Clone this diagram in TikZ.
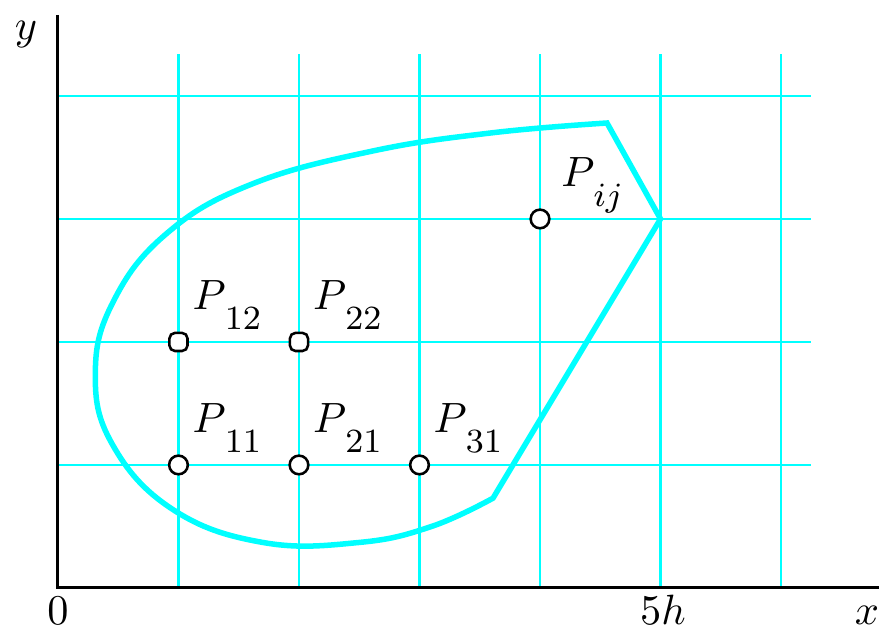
\documentclass[tikz,border=0pt]{standalone}
\usepackage{amsmath}
\usepackage{tikz}
\definecolor{gittercyan}{RGB}{0, 255, 255}
\usetikzlibrary{positioning}
\newcommand{\Pidx}[1]{$P_{\raisebox{-3pt}{\fontsize{7.6}{8}\selectfont\hspace{1.2pt}$#1$}}$}

\begin{document}
\begin{tikzpicture}[x=10mm, y=10.207mm,
			punkt/.style={draw, circle, fill=white, inner sep=0pt, minimum size=1.55mm, line width=0.6pt},
			eckpunkt/.style={draw, rectangle, rounded corners=1.3pt, fill=white, inner sep=0pt, minimum size=1.5mm, line width=0.6pt},
			beschr/.style={anchor=base west, inner sep=0pt},
			font=\normalsize]
			\useasboundingbox (-0.481,-0.366) rectangle (6.813,4.78);
			%Raster zeichnen
			\foreach \x in {1,...,6} \draw[gittercyan, line width=0.5pt] (\x,0) -- (\x,4.34);
			\foreach \y in {1,...,4} \draw[gittercyan, line width=0.5pt] (0,\y) -- (6.25,\y);
			% Achsen zeichnen
			\draw[line width=0.7pt] (0,4.66) -- (0,0) -- (6.813,0);
			% Achsen beschriften
			\node[anchor=base] (nullpkt) at (0,-0.30) {$0$};
			\node[anchor=base] (fuenfh) at (5.02,-0.30) {$5h$};
			\node[anchor=base] (xlab) at (6.714,-0.30) {$x$};
			\node[anchor=base] (ylab) at (-0.266,4.46) {$y$};
			%Gebiet zeichnen
			\draw[gittercyan, line width=1.3pt] (5,3) -- plot[smooth, tension=0.7] coordinates {(4.556,3.78) (3.6,3.70) (2.6,3.55) (1.6,3.28) (0.9,2.88) (0.46,2.33) (0.31,1.75) (0.45,1.17) (0.95,0.64) (1.7,0.37) (2.5,0.37) (3.1,0.50) (3.61,0.73)} -- cycle;
			%Gitterpunkte
			\node[punkt] (p11) at (1,1) {};
			\node[punkt] (p21) at (2,1) {};
			\node[punkt] (p31) at (3,1) {};
			\node[eckpunkt] (p12) at (1,2) {};
			\node[eckpunkt] (p22) at (2,2) {};
			\node[punkt] (pij) at (4,3) {};
			%Beschriftung
			\foreach \n in {11,21,31,12,22} \node[beschr] (l\n) at ([shift={(0.11,0.26)}]p\n.center) {\Pidx{\n}};
			\node[beschr] (lij) at ([shift={(0.17,0.26)}]pij.center) {\Pidx{ij}};
		\end{tikzpicture}
\end{document}
